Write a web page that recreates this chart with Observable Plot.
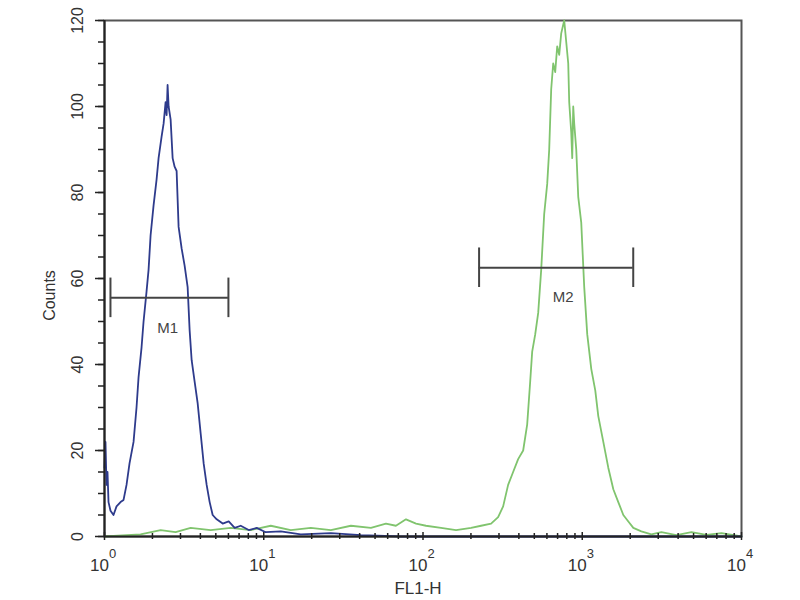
<!DOCTYPE html>
<html>
<head>
<meta charset="utf-8">
<script src="https://cdn.jsdelivr.net/npm/d3@7"></script>
<script src="https://cdn.jsdelivr.net/npm/@observablehq/plot@0.6"></script>
<style>
  body { margin: 0; background: #fff; }
  #chart svg { display: block; }
</style>
</head>
<body>
<div id="chart"></div>
<script>
// Blue histogram (isotype / control)
const blueFL = [1, 1.0146, 1.0294, 1.0444, 1.0597, 1.0907, 1.139, 1.190, 1.261, 1.317, 1.375, 1.436, 1.522, 1.589, 1.636, 1.709, 1.759, 1.837, 1.891, 1.947, 2.033, 2.123, 2.186, 2.283, 2.350, 2.419, 2.455, 2.490, 2.527, 2.601, 2.678, 2.756, 2.837, 2.920, 3.050, 3.185, 3.327, 3.424, 3.526, 3.681, 3.845, 4.016, 4.194, 4.380, 4.575, 4.778, 5.064, 5.522, 6.025, 6.570, 7.167, 8.049, 9.036, 10.29, 12.79, 17.09, 26.39, 40.75, 72.7, 200, 500, 1000, 3000, 10000];
const blueCounts = [16, 22, 12, 15, 8, 6, 5, 7, 8, 8.5, 12, 17, 22, 30, 37, 44, 50, 57, 62, 70, 77, 83, 88, 93, 96, 101, 98, 105, 100, 97, 88, 86, 85, 72, 67, 63, 58, 48, 41, 36, 31, 24, 17, 12, 8, 5, 4, 3, 3.5, 2, 2.5, 1.5, 2, 1, 1.2, 0.5, 0.8, 0.3, 0, 0, 0, 0, 0, 0];

// Green histogram (antibody stained)
const greenFL = [1, 1.684, 2.250, 2.796, 3.475, 4.642, 6.200, 8.283, 11.07, 14.78, 19.75, 26.39, 35.26, 47.1, 58.5, 67.6, 78.2, 90.4, 104.4, 129.8, 161.3, 200.4, 231.6, 267.7, 296.3, 318.6, 342.4, 368.1, 395.8, 425.6, 450.9, 471.0, 484.9, 506.5, 528.9, 552.3, 576.8, 602.5, 620.2, 638.3, 657.1, 676.4, 696.3, 716.7, 737.8, 759.5, 770.6, 793.3, 816.6, 828.3, 852.7, 865.2, 877.8, 890.7, 916.9, 943.7, 985.6, 1029, 1075, 1139, 1207, 1261, 1356, 1457, 1567, 1684, 1811, 1947, 2093, 2350, 2716, 3140, 3901, 4849, 6025, 7486, 10000];
const greenCounts = [0, 0.5, 1.5, 1, 2, 1.5, 2, 1.5, 2.5, 1.5, 2, 1.5, 2.5, 2, 3, 2.5, 4, 3, 2.5, 2, 1.5, 2, 2.5, 3, 4.5, 7, 12, 15, 18, 20, 26, 36, 43, 47, 52, 62, 75, 82, 90, 104, 110, 108, 114, 112, 117, 119, 120, 115, 110, 101, 94, 88, 100, 96, 90, 79, 73, 58, 47, 39, 34, 28, 22, 16, 11, 8, 5, 3.5, 2, 1.2, 0.5, 1, 0.3, 1, 0.4, 0.8, 0];

// Gate markers
const markerNames = ["M1", "M2"];
const markerStart = [1.09, 225];
const markerEnd = [6.0, 2090];
const markerLevel = [55.5, 62.5];
const markerLabelX = [2.49, 760];
const markerLabelY = [48.4, 55.6];

// Axis ticks
const yMajorTicks = [0, 20, 40, 60, 80, 100, 120];
const yMinorTicks = d3.range(0, 121, 5);
const xMajorTicks = [1, 10, 100, 1000, 10000];
const xExponents = ["0", "1", "2", "3", "4"];
const xMinorTicks = [1, 10, 100, 1000].flatMap(d => [2,3,4,5,6,7,8,9].map(k => k * d));

const blue = blueFL.map((v, i) => ({fl: v, count: blueCounts[i]}));
const green = greenFL.map((v, i) => ({fl: v, count: greenCounts[i]}));
const markers = markerNames.map((n, i) => ({name: n, x1: markerStart[i], x2: markerEnd[i], y: markerLevel[i], lx: markerLabelX[i], ly: markerLabelY[i]}));
const xMajor = xMajorTicks.map((v, i) => ({v, e: xExponents[i]}));
const capHalf = 4.6;

const ink = "#333";
const chart = Plot.plot({
  width: 800,
  height: 600,
  marginLeft: 104,
  marginRight: 59,
  marginTop: 20,
  marginBottom: 64,
  style: {fontFamily: "'Liberation Sans', Arial, sans-serif", fontSize: "14px", background: "#fff", color: ink},
  x: {type: "log", domain: [1, 10000], axis: null},
  y: {domain: [0, 120], axis: null},
  marks: [
    Plot.frame({stroke: "#555", strokeWidth: 2}),
    Plot.line(green, {x: "fl", y: "count", stroke: "#80c46e", strokeWidth: 1.8}),
    Plot.line(blue, {x: "fl", y: "count", stroke: "#2e3b8c", strokeWidth: 1.8}),
    // gate markers
    Plot.ruleY(markers, {y: "y", x1: "x1", x2: "x2", stroke: "#444", strokeWidth: 2}),
    Plot.ruleX(markers, {x: "x1", y1: d => d.y - capHalf, y2: d => d.y + capHalf, stroke: "#444", strokeWidth: 2}),
    Plot.ruleX(markers, {x: "x2", y1: d => d.y - capHalf, y2: d => d.y + capHalf, stroke: "#444", strokeWidth: 2}),
    Plot.text(markers, {x: "lx", y: "ly", text: "name", fill: "#444", fontSize: 15}),
    // y axis
    Plot.axisY({ticks: yMinorTicks, tickSize: 6, tickFormat: () => "", label: null, stroke: "#222", strokeWidth: 1.5}),
    Plot.axisY({ticks: yMajorTicks, tickSize: 9, tickFormat: () => "", label: null, stroke: "#222", strokeWidth: 1.5}),
    Plot.text(yMajorTicks, {y: d => d, text: d => String(d), frameAnchor: "left", dx: -27, rotate: -90, textAnchor: "middle", lineAnchor: "middle", fontSize: 16, fill: ink}),
    // x axis
    Plot.axisX({ticks: xMinorTicks, tickSize: 6, dy: -3, tickFormat: () => "", label: null, stroke: "#222", strokeWidth: 1.5}),
    Plot.axisX({ticks: xMajorTicks, tickSize: 8, dy: -4, tickFormat: () => "", label: null, stroke: "#222", strokeWidth: 1.5}),
    Plot.text(xMajor, {x: "v", text: () => "10", frameAnchor: "bottom", lineAnchor: "middle", dy: 29, dx: -5, fontSize: 17, fill: ink}),
    Plot.text(xMajor, {x: "v", text: "e", frameAnchor: "bottom", lineAnchor: "middle", dy: 17, dx: 8, fontSize: 13, fill: ink}),
    Plot.ruleX([1], {stroke: "#222", strokeWidth: 2}),
    Plot.ruleY([0], {stroke: "#222", strokeWidth: 2}),
    // axis titles
    Plot.text(["Counts"], {frameAnchor: "left", dx: -55, dy: 17, rotate: -90, textAnchor: "middle", lineAnchor: "middle", text: d => d, fontSize: 16, fill: ink}),
    Plot.text(["FL1-H"], {frameAnchor: "bottom", lineAnchor: "middle", dy: 52, dx: -5, text: d => d, fontSize: 17, fill: ink})
  ]
});
document.getElementById("chart").appendChild(chart);
</script>
</body>
</html>
